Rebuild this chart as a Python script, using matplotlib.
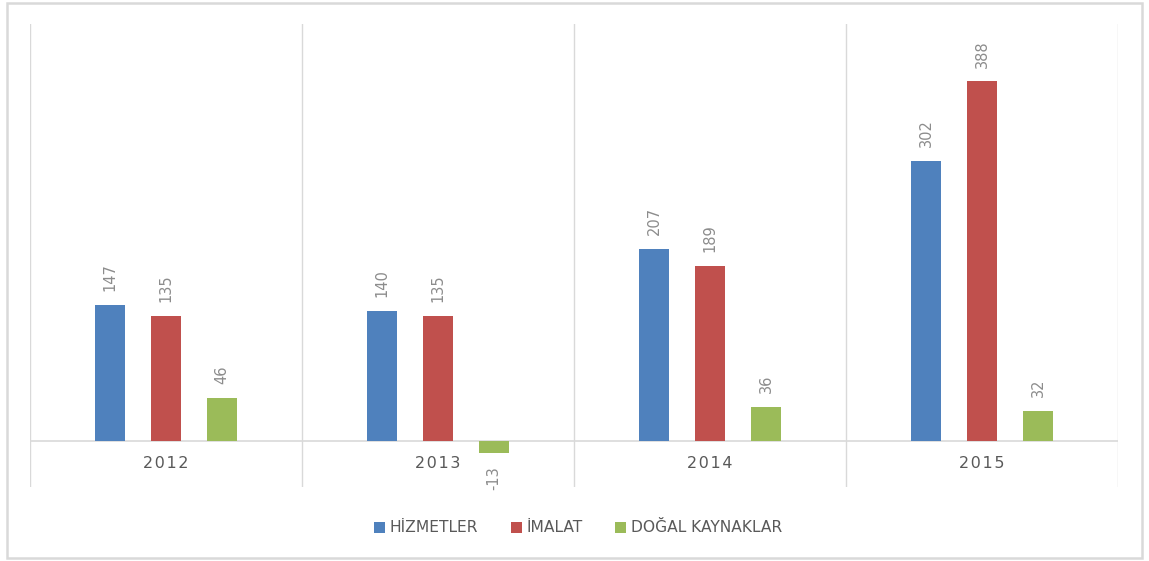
import matplotlib
matplotlib.use("Agg")
import matplotlib.pyplot as plt
from matplotlib.patches import Patch, FancyBboxPatch
import numpy as np

years = ["2012", "2013", "2014", "2015"]
series_names = ["HİZMETLER", "İMALAT", "DOĞAL KAYNAKLAR"]
hizmetler = [147, 140, 207, 302]
imalat = [135, 135, 189, 388]
dogal = [46, -13, 36, 32]
colors = ["#4f81bd", "#c0504d", "#9bbb59"]

W, H = 1149, 561
fig = plt.figure(figsize=(W / 100, H / 100), dpi=100)

# outer chart border
fig.patches.append(FancyBboxPatch((7 / W, 3 / H), 1135 / W, 555 / H,
                                  boxstyle="square,pad=0", transform=fig.transFigure,
                                  fill=False, edgecolor="#d9d9d9", linewidth=1.8))

ax = fig.add_axes([30 / W, (H - 487) / H, 1088 / W, 463 / H])
ax.set_xlim(0, 4)
ax.set_ylim(-50, 450)
for s in ax.spines.values():
    s.set_visible(False)
ax.set_xticks([])
ax.set_yticks([])

for x in range(5):
    ax.axvline(x, color="#d9d9d9", lw=1, zorder=0)
ax.axhline(0, color="#d9d9d9", lw=1.2, zorder=1)

centers = np.arange(len(years)) + 0.5
offsets = [-0.206, 0.0, 0.206]
width = 0.11
for vals, off, col in zip([hizmetler, imalat, dogal], offsets, colors):
    xs = centers + off
    ax.bar(xs, vals, width=width, color=col, zorder=2)
    for x, v in zip(xs, vals):
        if v >= 0:
            ax.annotate(str(v), (x, v), xytext=(0, 10), textcoords="offset points",
                        rotation=90, ha="center", va="bottom", color="#8c8c8c", fontsize=10.5)
        else:
            ax.annotate(str(v), (x, v), xytext=(0, -10), textcoords="offset points",
                        rotation=90, ha="center", va="top", color="#8c8c8c", fontsize=10.5)

for c, y in zip(centers, years):
    ax.text(c, -25, "\u200a".join(y), ha="center", va="center", color="#595959", fontsize=11.5)

handles = [Patch(facecolor=c, edgecolor="none") for c in colors]
fig.legend(handles, series_names, loc="center", bbox_to_anchor=(578 / W, 1 - 528 / H),
           ncol=3, frameon=False, handlelength=0.7, handleheight=0.7, handletextpad=0.3,
           columnspacing=2.1, labelcolor="#595959", fontsize=11.2)

fig.savefig("out.png", dpi=100)
